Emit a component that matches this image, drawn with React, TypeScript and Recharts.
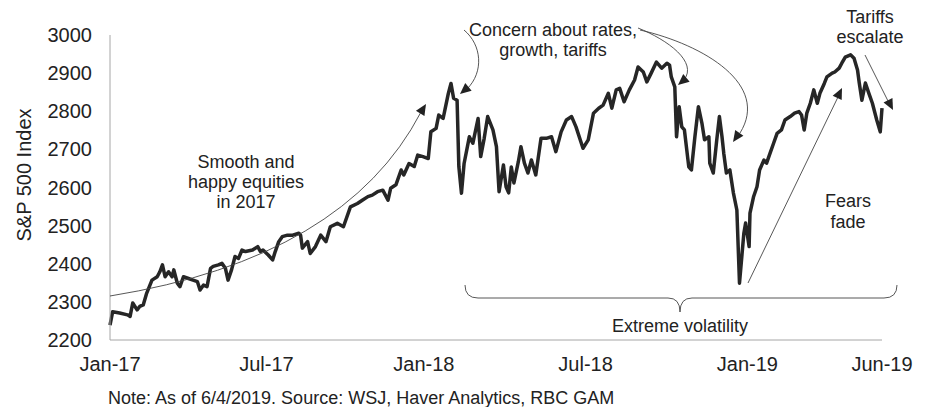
import React from 'react';
import { LineChart, Line, XAxis, YAxis } from 'recharts';

// days since 1 Jan 2017
const dayIdx = [
  2, 5, 13, 22, 25, 28, 33, 36, 40, 44, 50, 56, 59, 62, 65, 69, 73, 75, 79, 82,
  86, 91, 97, 102, 105, 109, 113, 117, 120, 126, 130, 134, 137, 141, 145, 149, 153, 157, 165, 171,
  174, 177, 183, 188, 191, 195, 199, 205, 211, 218, 220, 222, 228, 231, 237, 243, 249, 254, 262, 269,
  277, 285, 291, 297, 302, 308, 314, 320, 323, 329, 335, 338, 344, 350, 354, 360, 366, 369, 375, 378,
  383, 385, 389, 392, 395, 399, 401, 404, 407, 413, 417, 423, 426, 430, 434, 440, 444, 447, 452, 455,
  458, 461, 464, 469, 472, 476, 480, 484, 489, 495, 501, 507, 512, 518, 524, 530, 535, 543, 549, 555,
  561, 566, 572, 576, 581, 585, 590, 596, 602, 606, 612, 616, 621, 627, 633, 639, 642, 644, 648, 650,
  653, 656, 659, 664, 667, 671, 675, 679, 682, 687, 688, 692, 696, 699, 702, 704, 707, 711, 715, 719,
  722, 727, 729, 733, 734, 738, 742, 745, 750, 753, 757, 761, 765, 770, 774, 780, 785, 790, 793, 796,
  799, 803, 807, 811, 814, 819, 822, 828, 831, 836, 839, 843, 849, 853, 857, 859, 862, 866, 870, 874,
  879, 883, 885,
];

const spx = [
  2239, 2274, 2271, 2266, 2262, 2297, 2279, 2288, 2292, 2323, 2357, 2366, 2379, 2397, 2366, 2379, 2366, 2384, 2349, 2340,
  2366, 2362, 2357, 2353, 2331, 2344, 2340, 2388, 2393, 2397, 2401, 2388, 2357, 2384, 2419, 2414, 2436, 2432, 2436, 2445,
  2432, 2436, 2423, 2410, 2432, 2458, 2471, 2475, 2475, 2480, 2475, 2441, 2458, 2427, 2445, 2475, 2458, 2497, 2506, 2497,
  2549, 2558, 2567, 2576, 2580, 2589, 2593, 2567, 2598, 2607, 2646, 2633, 2663, 2655, 2685, 2681, 2676, 2746, 2755, 2790,
  2781, 2803, 2847, 2873, 2834, 2829, 2655, 2585, 2663, 2733, 2716, 2781, 2681, 2729, 2786, 2751, 2707, 2589, 2659, 2602,
  2586, 2654, 2612, 2667, 2707, 2664, 2638, 2672, 2633, 2729, 2729, 2733, 2694, 2746, 2777, 2786, 2759, 2703, 2725, 2795,
  2808, 2816, 2847, 2808, 2856, 2860, 2825, 2856, 2882, 2916, 2903, 2877, 2900, 2929, 2913, 2926, 2921, 2890, 2864, 2733,
  2812, 2759, 2751, 2654, 2646, 2733, 2812, 2769, 2725, 2733, 2664, 2638, 2725, 2786, 2733, 2690, 2638, 2646, 2586, 2541,
  2349, 2480, 2507, 2445, 2533, 2575, 2602, 2646, 2672, 2664, 2690, 2716, 2742, 2751, 2777, 2786, 2795, 2799, 2790, 2751,
  2795, 2821, 2856, 2821, 2847, 2873, 2890, 2900, 2903, 2913, 2926, 2942, 2948, 2939, 2908, 2874, 2829, 2874, 2847, 2821,
  2777, 2746, 2808,
];

const tickDays = [2, 181, 361, 546, 731, 885];
const tickLabels = ['Jan-17', 'Jul-17', 'Jan-18', 'Jul-18', 'Jan-19', 'Jun-19'];
const yTicks = [2200, 2300, 2400, 2500, 2600, 2700, 2800, 2900, 3000];

const data = dayIdx.map((d, i) => ({ day: d, spx: spx[i] }));

const FONT = '"Liberation Sans", Arial, sans-serif';
const INK = '#222';
const THIN = '#444';

function Head({ x, y, angle }: { x: number; y: number; angle: number }) {
  // filled triangle pointing along angle (degrees), tip at x,y
  return (
    <polygon
      points="0,0 -11,-5 -11,5"
      fill={INK}
      transform={`translate(${x},${y}) rotate(${angle})`}
    />
  );
}

function Annotations() {
  const txt = { fontFamily: FONT, fontSize: 18, fill: INK, textAnchor: 'middle' as const };
  return (
    <svg
      width={926}
      height={407}
      style={{ position: 'absolute', left: 0, top: 0, pointerEvents: 'none' }}
    >
      <text x={31} y={175} transform="rotate(-90, 31, 175)" style={{ fontFamily: FONT }} fontSize={20} fill={INK} textAnchor="middle">
        S&amp;P 500 Index
      </text>

      <text {...txt} x={246} y={168}>Smooth and</text>
      <text {...txt} x={246} y={188}>happy equities</text>
      <text {...txt} x={246} y={208}>in 2017</text>
      <path d="M110,296 Q345,258 421,112" fill="none" stroke={THIN} strokeWidth={0.9} />
      <Head x={426} y={104} angle={-58} />

      <text {...txt} x={553} y={36}>Concern about rates,</text>
      <text {...txt} x={553} y={56}>growth, tariffs</text>
      <path d="M464,30 C482,45 484,72 467,89" fill="none" stroke={THIN} strokeWidth={0.9} />
      <Head x={460} y={94} angle={140} />
      <path d="M638,28 C668,40 698,62 684,80" fill="none" stroke={THIN} strokeWidth={0.9} />
      <Head x={678} y={85} angle={140} />
      <path d="M640,30 C705,45 770,85 740,133" fill="none" stroke={THIN} strokeWidth={0.9} />
      <Head x={733} y={142} angle={125} />

      <text {...txt} x={870} y={23}>Tariffs</text>
      <text {...txt} x={870} y={43}>escalate</text>
      <line x1={865} y1={55} x2={889} y2={103} stroke={THIN} strokeWidth={0.9} />
      <Head x={893} y={110} angle={63} />

      <text {...txt} x={848} y={207}>Fears</text>
      <text {...txt} x={848} y={228}>fade</text>
      <line x1={748} y1={283} x2={838} y2={97} stroke={THIN} strokeWidth={0.9} />
      <Head x={842} y={88} angle={-64} />

      <path
        d="M465,285 Q465,298 478,298 L668,298 Q680,298 680,312 Q680,298 692,298 L884,298 Q897,298 897,285"
        fill="none"
        stroke={THIN}
        strokeWidth={0.9}
      />
      <text {...txt} x={680} y={332}>Extreme volatility</text>

      <text x={108} y={404} style={{ fontFamily: FONT }} fontSize={18} fill={INK}>
        Note: As of 6/4/2019. Source: WSJ, Haver Analytics, RBC GAM
      </text>
    </svg>
  );
}

export default function App() {
  return (
    <div style={{ position: 'absolute', left: 0, top: 0, width: 926, height: 407, background: '#fff' }}>
      <LineChart width={926} height={407} data={data} margin={{ top: 35, right: 44, bottom: 37, left: 0 }}>
        <XAxis
          dataKey="day"
          type="number"
          domain={[2, 885]}
          ticks={tickDays}
          interval={0}
          tickFormatter={(v: number) => tickLabels[tickDays.indexOf(v)]}
          tickLine={false}
          tickSize={0}
          tickMargin={17}
          stroke="#a6a6a6"
          tick={{ fill: INK, fontSize: 20, fontFamily: FONT }}
          height={30}
        />
        <YAxis
          domain={[2200, 3000]}
          ticks={yTicks}
          interval={0}
          width={110}
          tickLine={false}
          tickSize={0}
          tickMargin={18}
          stroke="#a6a6a6"
          tick={{ fill: INK, fontSize: 20, fontFamily: FONT }}
        />
        <Line
          type="linear"
          dataKey="spx"
          stroke="#262626"
          strokeWidth={3.5}
          dot={false}
          isAnimationActive={false}
          strokeLinejoin="round"
        />
      </LineChart>
      <Annotations />
    </div>
  );
}
